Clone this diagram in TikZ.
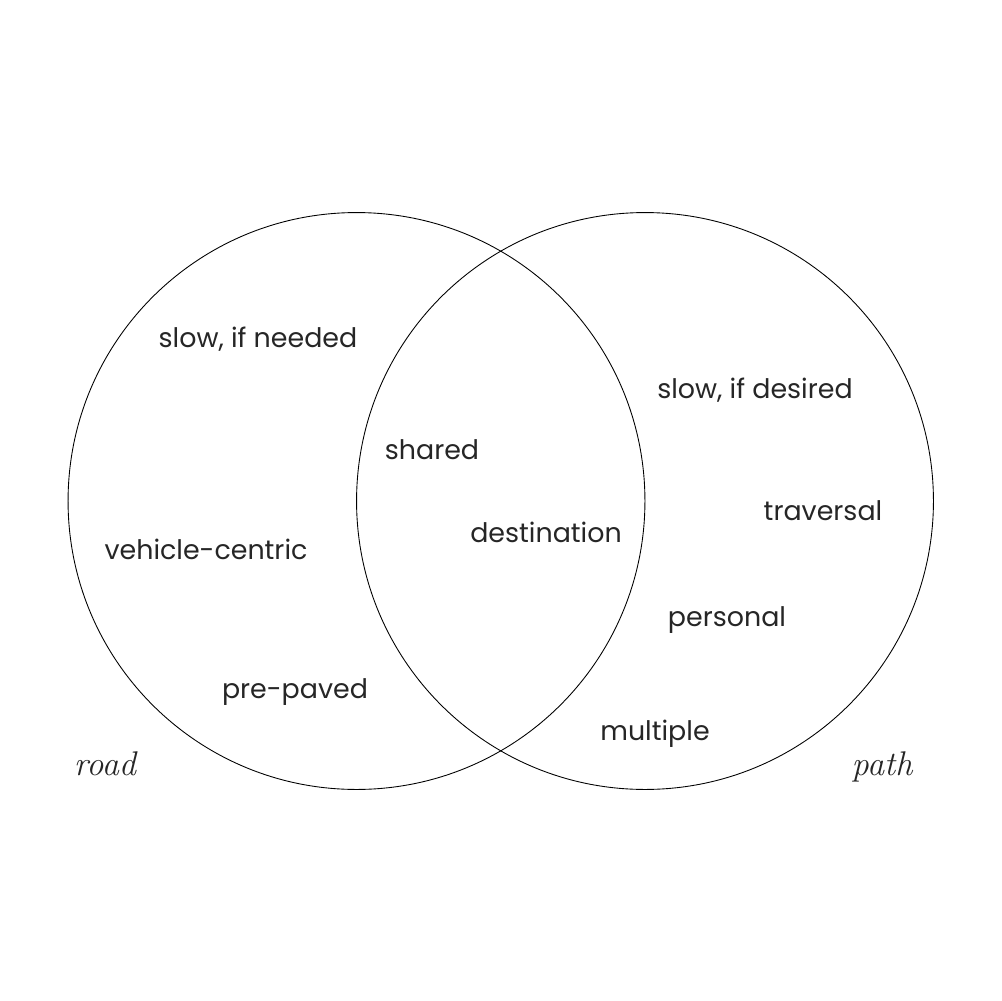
\documentclass[tikz,border=0pt]{standalone}
\usepackage{fontspec}
\setsansfont{Poppins}
\usetikzlibrary{shapes.geometric,positioning}

\begin{document}
\begin{tikzpicture}[x=0.02cm,y=-0.02cm,
  setcircle/.style={circle,draw,line width=0.5pt,minimum size=11.54cm,inner sep=0pt},
  word/.style={font=\sffamily\fontsize{15.3}{17}\selectfont,anchor=base,inner sep=0pt,text=black!85},
  setname/.style={font=\itshape\fontsize{19.5}{22}\selectfont,anchor=base,inner sep=0pt,text=black!85},
]
\useasboundingbox (0,0) rectangle (1001,1001);

% === Two sets ===
\node[setcircle] (R) at (356.5,501) {};
\node[setcircle] (P) at (645,501) {};

% === road only ===
\node[word] (R1) at (258,347) {slow, if needed};
\node[word] (R2) at (206,559) {vehicle-centric};
\node[word] (R3) at (295,698) {pre-paved};

% === both ===
\node[word] (B1) at (432,459) {shared};
\node[word] (B2) at (546,542) {destination};

% === path only ===
\node[word] (P1) at (755,398) {slow, if desired};
\node[word] (P2) at (823,520) {traversal};
\node[word] (P3) at (727,626) {personal};
\node[word] (P4) at (655,740) {multiple};

% Set names
\node[setname] (RN) at (105,775) {road};
\node[setname] (PN) at (882,775) {path};

\end{tikzpicture}
\end{document}
